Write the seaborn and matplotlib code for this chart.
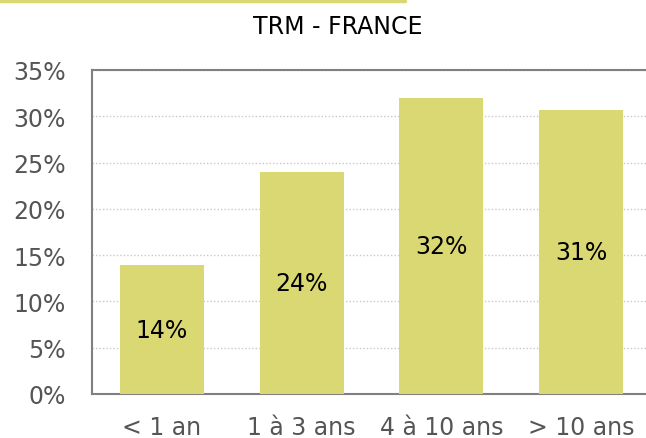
import matplotlib
matplotlib.use("Agg")
import matplotlib.pyplot as plt
import seaborn as sns
import pandas as pd
from matplotlib.lines import Line2D

categories = ["< 1 an", "1 à 3 ans", "4 à 10 ans", "> 10 ans"]
values = [13.9, 24.0, 32.0, 30.7]
labels = ["14%", "24%", "32%", "31%"]
yticks = [0, 5, 10, 15, 20, 25, 30, 35]

sns.set_style("white")
plt.rcParams['font.family'] = ['DejaVu Sans']

bar_color = "#DAD872"
df = pd.DataFrame({"cat": categories, "val": values})

fig = plt.figure(figsize=(6.46, 4.39), dpi=100)
ax = fig.add_axes([92/646, 1 - 395/439, (646 - 92 + 5)/646, (395 - 71)/439])
sns.barplot(data=df, x="cat", y="val", color=bar_color, width=0.6, ax=ax,
            saturation=1, edgecolor="none", zorder=3)
ax.set_ylim(0, 35)
ax.set_xlim(-0.5, 3.5)
ax.set_yticks(yticks)
ax.set_yticklabels([f"{t}%" for t in yticks])
ax.set_xlabel("")
ax.set_ylabel("")
ax.grid(axis="y", color="#c8c8c8", linestyle=(0, (1, 1.5)), linewidth=1, zorder=0)
for s in ["left", "bottom", "top", "right"]:
    ax.spines[s].set_color("#808080")
    ax.spines[s].set_linewidth(1.5)
ax.tick_params(axis="both", length=0, labelsize=17, labelcolor="#555555")
ax.tick_params(axis="y", pad=19)
ax.tick_params(axis="x", pad=15)

for i, (v, lab) in enumerate(zip(values, labels)):
    ax.text(i, v / 2, lab, ha="center", va="center", fontsize=17, color="black", zorder=4)

fig.text(338/646, 1 - 27/439, "TRM - FRANCE", ha="center", va="center", fontsize=17, color="black")
fig.add_artist(Line2D([0, 405/646], [1 - 1.5/439, 1 - 1.5/439], color=bar_color, linewidth=2.5,
                      transform=fig.transFigure))

fig.savefig("out.png", dpi=100)
